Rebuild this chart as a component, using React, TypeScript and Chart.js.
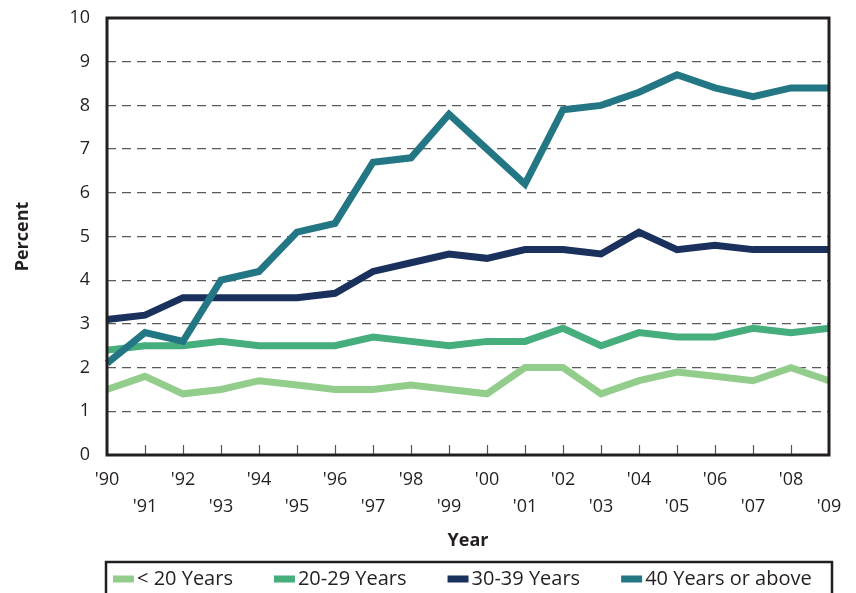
import React, { useEffect, useRef } from "react";
import { Chart, registerables } from "chart.js";

Chart.register(...registerables);

const years = ["'90", "'91", "'92", "'93", "'94", "'95", "'96", "'97", "'98", "'99", "'00", "'01", "'02", "'03", "'04", "'05", "'06", "'07", "'08", "'09"];
const under20 = [1.5, 1.8, 1.4, 1.5, 1.7, 1.6, 1.5, 1.5, 1.6, 1.5, 1.4, 2.0, 2.0, 1.4, 1.7, 1.9, 1.8, 1.7, 2.0, 1.7];
const age20to29 = [2.4, 2.5, 2.5, 2.6, 2.5, 2.5, 2.5, 2.7, 2.6, 2.5, 2.6, 2.6, 2.9, 2.5, 2.8, 2.7, 2.7, 2.9, 2.8, 2.9];
const age30to39 = [3.1, 3.2, 3.6, 3.6, 3.6, 3.6, 3.7, 4.2, 4.4, 4.6, 4.5, 4.7, 4.7, 4.6, 5.1, 4.7, 4.8, 4.7, 4.7, 4.7];
const age40plus = [2.1, 2.8, 2.6, 4.0, 4.2, 5.1, 5.3, 6.7, 6.8, 7.8, 7.0, 6.2, 7.9, 8.0, 8.3, 8.7, 8.4, 8.2, 8.4, 8.4];

const seriesLabels = ["< 20 Years", "20-29 Years", "30-39 Years", "40 Years or above"];
const seriesColors = ["#93cd8b", "#46ad7d", "#1a315e", "#237784"];
const seriesValues = [under20, age20to29, age30to39, age40plus];

const yMin = 0;
const yMax = 10;
const yStep = 1;

const TEXT = "#231f20";

const framePlugin = {
  id: "frame",
  afterDatasetsDraw(chart: any) {
    const { ctx, chartArea } = chart;
    const { left, right, top, bottom } = chartArea;
    const x = chart.scales.x;
    ctx.save();
    ctx.setLineDash([]);
    ctx.strokeStyle = "#555";
    ctx.lineWidth = 1.2;
    const n = chart.data.labels.length;
    for (let i = 1; i < n - 1; i++) {
      const px = Math.round(x.getPixelForValue(i)) + 0.5;
      ctx.beginPath();
      ctx.moveTo(px, bottom);
      ctx.lineTo(px, bottom - 10);
      ctx.stroke();
    }
    ctx.strokeStyle = TEXT;
    ctx.lineWidth = 3;
    ctx.strokeRect(left, top, right - left, bottom - top);
    ctx.restore();
  },
};

const boxLegendPlugin = {
  id: "boxLegend",
  afterDraw(chart: any) {
    const ctx = chart.ctx;
    ctx.save();
    ctx.setLineDash([]);
    ctx.strokeStyle = TEXT;
    ctx.lineWidth = 2.5;
    ctx.strokeRect(106, 562, 726, 60);
    ctx.font = '20px "Open Sans"';
    ctx.textBaseline = "middle";
    ctx.textAlign = "left";
    const cy = 579;
    let x = 113;
    chart.data.datasets.forEach((ds: any) => {
      ctx.fillStyle = ds.borderColor;
      ctx.fillRect(x, cy - 3.5, 21, 7);
      ctx.fillStyle = TEXT;
      ctx.fillText(ds.label, x + 24, cy);
      x += 24 + ctx.measureText(ds.label).width + 41;
    });
    ctx.restore();
  },
};

export default function App() {
  const ref = useRef<HTMLCanvasElement | null>(null);

  useEffect(() => {
    if (!ref.current) return;
    const datasets = seriesLabels.map((label, i) => ({
      label,
      data: seriesValues[i],
      borderColor: seriesColors[i],
      backgroundColor: seriesColors[i],
      borderWidth: 7,
      pointRadius: 0,
      tension: 0,
      fill: false,
      order: seriesLabels.length - i,
    }));

    const chart = new Chart(ref.current, {
      type: "line",
      data: { labels: years, datasets },
      plugins: [framePlugin, boxLegendPlugin],
      options: {
        responsive: false,
        animation: false,
        layout: { padding: { top: 18, right: 27, bottom: 38, left: 0 } },
        plugins: {
          legend: { display: false },
          tooltip: { enabled: false },
        },
        scales: {
          x: {
            type: "category",
            offset: false,
            afterFit: (s: any) => {
              s.height = 100;
            },
            grid: { display: false, drawTicks: false },
            border: { display: false },
            ticks: {
              autoSkip: false,
              maxRotation: 0,
              minRotation: 0,
              padding: 11,
              color: TEXT,
              font: { family: "Open Sans", size: 18, lineHeight: 1.5 },
              callback: (_v: any, i: number) =>
                i % 2 === 0 ? [years[i], ""] : ["", years[i]],
            },
            title: {
              display: true,
              text: "Year",
              color: TEXT,
              font: { family: "Open Sans", size: 18, weight: "bold" },
              padding: { top: 0, bottom: 3 },
            },
          },
          y: {
            min: yMin,
            max: yMax,
            afterFit: (s: any) => {
              s.width = 107;
              s.paddingTop = 10;
              s.paddingBottom = 10;
            },
            grid: {
              drawTicks: false,
              lineWidth: 1.3,
              color: (c: any) =>
                c.tick && (c.tick.value === yMin || c.tick.value === yMax)
                  ? "rgba(0,0,0,0)"
                  : "#5a5a5a",
            },
            border: { display: false, dash: [9, 6] },
            ticks: {
              stepSize: yStep,
              padding: 17,
              color: TEXT,
              font: { family: "Open Sans", size: 18 },
            },
            title: {
              display: true,
              text: "Percent",
              color: TEXT,
              font: { family: "Open Sans", size: 18, weight: "bold" },
              padding: { top: 12, bottom: 0 },
            },
          },
        },
      },
    });
    return () => chart.destroy();
  }, []);

  return (
    <canvas
      ref={ref}
      width={856}
      height={593}
      style={{ position: "absolute", left: 0, top: 0, width: 856, height: 593, display: "block" }}
    />
  );
}
